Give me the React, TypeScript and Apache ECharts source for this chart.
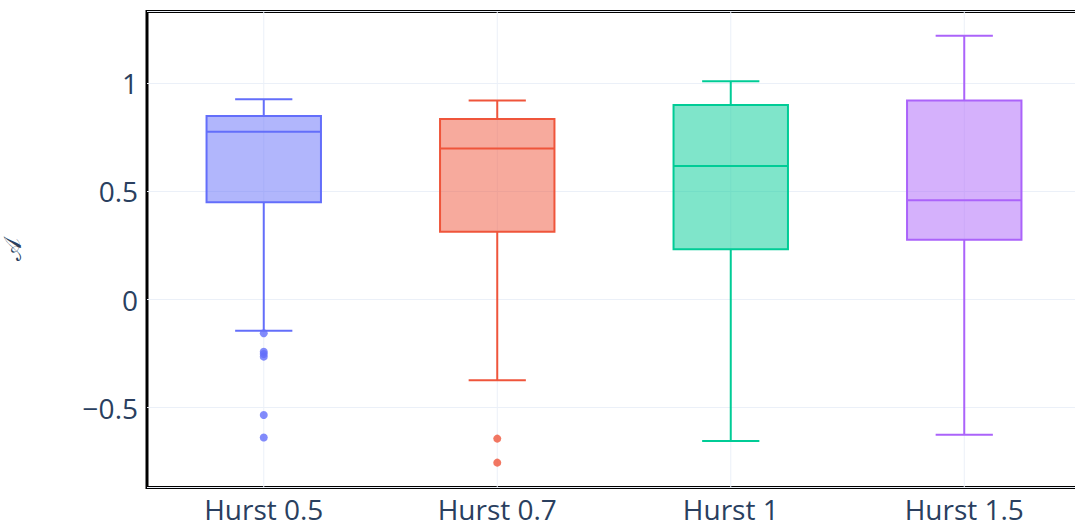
import React, { useEffect, useRef } from "react";
import * as echarts from "echarts";

// Categories and box statistics: [min whisker, Q1, median, Q3, max whisker]
const categories = ["Hurst 0.5", "Hurst 0.7", "Hurst 1", "Hurst 1.5"];
const lowerWhisker = [-0.144, -0.373, -0.654, -0.625];
const q1 = [0.45, 0.314, 0.233, 0.277];
const median = [0.776, 0.698, 0.618, 0.459];
const q3 = [0.849, 0.835, 0.9, 0.92];
const upperWhisker = [0.926, 0.92, 1.009, 1.22];

// Outlying points, one list per category
const outliers: number[][] = [
  [-0.156, -0.241, -0.252, -0.264, -0.534, -0.638],
  [-0.643, -0.754],
  [],
  [],
];

const yTicks = [-0.5, 0, 0.5, 1];
const colors = ["#636EFA", "#EF553B", "#00CC96", "#AB63FA"];
const fills = [
  "rgba(99,110,250,0.5)",
  "rgba(239,85,59,0.5)",
  "rgba(0,204,150,0.5)",
  "rgba(171,99,250,0.5)",
];

const gridColor = "#EBF0F8";
const textColor = "#2a3f5f";

export default function App() {
  const ref = useRef<HTMLDivElement>(null);

  useEffect(() => {
    if (!ref.current) return;
    const chart = echarts.init(ref.current, undefined, { renderer: "svg" });

    const boxData = categories.map((_, i) => [
      i,
      lowerWhisker[i],
      q1[i],
      median[i],
      q3[i],
      upperWhisker[i],
    ]);

    const outlierData: any[] = [];
    outliers.forEach((list, i) =>
      list.forEach((v) =>
        outlierData.push({ value: [i, v], itemStyle: { color: colors[i] } })
      )
    );

    const renderBox = (params: any, api: any) => {
      const idx = api.value(0);
      const cs = params.coordSys;
      const pMin = api.coord([idx, api.value(1)]);
      const pQ1 = api.coord([idx, api.value(2)]);
      const pMed = api.coord([idx, api.value(3)]);
      const pQ3 = api.coord([idx, api.value(4)]);
      const pMax = api.coord([idx, api.value(5)]);
      const bw = api.size([1, 0])[0] * 0.49;
      const cx = pMed[0];
      const stroke = { stroke: colors[idx], lineWidth: 2 };
      return {
        type: "group",
        children: [
          {
            type: "line",
            shape: { x1: cx, y1: cs.y, x2: cx, y2: cs.y + cs.height },
            style: { stroke: gridColor, lineWidth: 1 },
          },
          {
            type: "line",
            shape: { x1: cx, y1: pQ3[1], x2: cx, y2: pMax[1] },
            style: stroke,
          },
          {
            type: "line",
            shape: { x1: cx, y1: pQ1[1], x2: cx, y2: pMin[1] },
            style: stroke,
          },
          {
            type: "line",
            shape: { x1: cx - bw / 4, y1: pMax[1], x2: cx + bw / 4, y2: pMax[1] },
            style: stroke,
          },
          {
            type: "line",
            shape: { x1: cx - bw / 4, y1: pMin[1], x2: cx + bw / 4, y2: pMin[1] },
            style: stroke,
          },
          {
            type: "rect",
            shape: { x: cx - bw / 2, y: pQ3[1], width: bw, height: pQ1[1] - pQ3[1] },
            style: { fill: fills[idx], stroke: colors[idx], lineWidth: 2 },
          },
          {
            type: "line",
            shape: { x1: cx - bw / 2, y1: pMed[1], x2: cx + bw / 2, y2: pMed[1] },
            style: stroke,
          },
        ],
      };
    };

    chart.setOption({
      animation: false,
      backgroundColor: "#fff",
      grid: {
        left: 147,
        right: 1,
        top: 11.5,
        bottom: 39.5,
        outerBoundsMode: "none",
        show: true,
        borderColor: "#000",
        borderWidth: 3,
        backgroundColor: "transparent",
      },
      xAxis: {
        type: "category",
        data: categories,
        axisLine: { show: false },
        axisTick: { show: false },
        splitLine: { show: false },
        axisLabel: {
          color: textColor,
          fontFamily: "Open Sans",
          fontSize: 28,
          lineHeight: 28,
          margin: 7,
        },
      },
      yAxis: {
        type: "value",
        min: -0.869,
        max: 1.332,
        splitNumber: 5,
        name: "\u{1D49C}",
        nameLocation: "middle",
        nameRotate: 90,
        nameGap: 122,
        nameTextStyle: {
          color: textColor,
          fontFamily: "DejaVu Serif",
          fontSize: 24,
        },
        axisLine: { show: false },
        axisTick: { show: false },
        splitLine: { lineStyle: { color: gridColor, width: 1 } },
        axisLabel: {
          customValues: yTicks,
          color: textColor,
          fontFamily: "Open Sans",
          fontSize: 28,
          margin: 9,
          formatter: (v: number) =>
            v < 0 ? "\u2212" + Math.abs(v) : String(v),
        },
      },
      series: [
        {
          type: "custom",
          data: boxData,
          encode: { x: 0, y: [1, 2, 3, 4, 5] },
          renderItem: renderBox,
          z: 2,
        },
        {
          type: "scatter",
          data: outlierData,
          symbolSize: 8,
          z: 3,
        },
      ],
    });

    return () => chart.dispose();
  }, []);

  return (
    <div
      ref={ref}
      style={{ position: "fixed", left: 0, top: 0, width: 1082, height: 527 }}
    />
  );
}
